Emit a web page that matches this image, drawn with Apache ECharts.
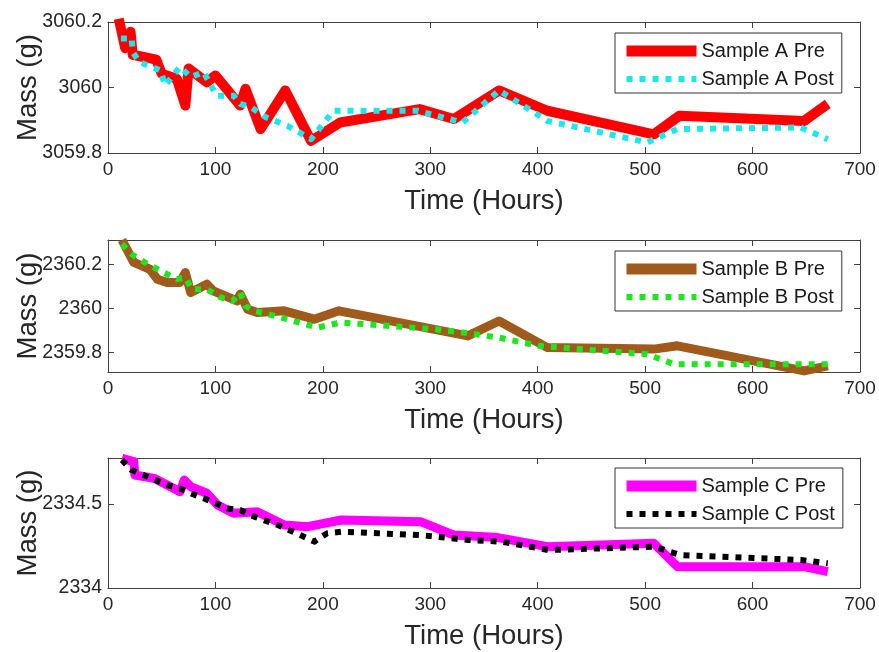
<!DOCTYPE html>
<html><head><meta charset="utf-8">
<script src="https://cdn.jsdelivr.net/npm/echarts@6/dist/echarts.min.js"></script>
<style>html,body{margin:0;padding:0;background:#fff}#c{width:879px;height:652px}</style>
</head><body><div id="c"></div>
<script>
// ---- data ----
const xTickValues = [0, 100, 200, 300, 400, 500, 600, 700];
const seriesNames = ['Sample A Pre', 'Sample A Post', 'Sample B Pre', 'Sample B Post', 'Sample C Pre', 'Sample C Post'];
const yTicksA = [3059.8, 3060, 3060.2];
const yTicksB = [2359.8, 2360, 2360.2];
const yTicksC = [2334, 2334.5];
const yRangeA = [3059.8, 3060.2];
const yRangeB = [2359.71, 2360.31];
const yRangeC = [2334, 2334.774];

const aPreT = [10, 16, 21, 23, 45, 50, 64, 72, 75, 92, 100, 123, 128, 142, 165, 189, 216, 290, 322, 364, 409, 508, 532, 648, 670];
const aPreV = [3060.21, 3060.12, 3060.17, 3060.10, 3060.085, 3060.042, 3060.027, 3059.945, 3060.058, 3060.016, 3060.037, 3059.945, 3059.996, 3059.873, 3059.991, 3059.837, 3059.893, 3059.934, 3059.904, 3059.991, 3059.929, 3059.857, 3059.914, 3059.898, 3059.95];
const aPostT = [12, 22, 23, 29, 49, 53, 67, 77, 89, 101, 117, 123, 133, 147, 167, 189, 210, 288, 330, 364, 409, 502, 530, 645, 670];
const aPostV = [3060.15, 3060.15, 3060.109, 3060.078, 3060.052, 3060.006, 3060.063, 3060.032, 3060.047, 3059.975, 3059.975, 3059.95, 3059.94, 3059.909, 3059.883, 3059.842, 3059.929, 3059.929, 3059.893, 3059.991, 3059.898, 3059.832, 3059.873, 3059.878, 3059.842];

const bPreT = [13, 24, 39, 46, 55, 67, 72, 77, 92, 98, 120, 123, 130, 139, 164, 192, 215, 335, 364, 409, 508, 530, 648, 670];
const bPreV = [2360.31, 2360.208, 2360.177, 2360.132, 2360.117, 2360.117, 2360.162, 2360.071, 2360.109, 2360.079, 2360.033, 2360.064, 2359.995, 2359.98, 2359.988, 2359.95, 2359.988, 2359.874, 2359.942, 2359.821, 2359.814, 2359.829, 2359.715, 2359.738];
const bPostT = [13, 22, 32, 43, 52, 64, 72, 78, 92, 105, 116, 123, 128, 136, 161, 195, 217, 303, 330, 363, 401, 502, 527, 645, 670];
const bPostV = [2360.291, 2360.245, 2360.215, 2360.185, 2360.162, 2360.132, 2360.14, 2360.086, 2360.086, 2360.049, 2360.033, 2360.071, 2360.01, 2359.988, 2359.958, 2359.912, 2359.935, 2359.905, 2359.89, 2359.867, 2359.829, 2359.791, 2359.745, 2359.745, 2359.745];

const cPreT = [13, 24, 25, 43, 67, 71, 77, 92, 102, 117, 139, 164, 186, 217, 291, 322, 363, 409, 508, 530, 648, 670];
const cPreV = [2334.772, 2334.752, 2334.673, 2334.653, 2334.573, 2334.643, 2334.603, 2334.564, 2334.494, 2334.445, 2334.454, 2334.375, 2334.365, 2334.405, 2334.395, 2334.315, 2334.3, 2334.246, 2334.266, 2334.127, 2334.127, 2334.097];
const cPostT = [13, 22, 33, 55, 67, 77, 89, 100, 111, 123, 136, 158, 179, 192, 204, 217, 291, 335, 366, 410, 508, 533, 645, 670];
const cPostV = [2334.762, 2334.702, 2334.673, 2334.613, 2334.593, 2334.564, 2334.534, 2334.504, 2334.474, 2334.464, 2334.425, 2334.375, 2334.315, 2334.276, 2334.326, 2334.335, 2334.315, 2334.286, 2334.276, 2334.226, 2334.246, 2334.196, 2334.167, 2334.147];

// ---- build ----
const zip = (t, v) => t.map((x, i) => [x, v[i]]);
const FONT = '"Liberation Sans", Arial, Helvetica, sans-serif';
const AX = '#404040';
const TXT = '#262626';
const grids = [
  { left: 108, right: 19, top: 22, height: 131, outerBoundsMode: 'none', containLabel: false },
  { left: 108, right: 19, top: 240, height: 132, outerBoundsMode: 'none', containLabel: false },
  { left: 108, right: 19, top: 458, height: 130, outerBoundsMode: 'none', containLabel: false }
];
const yTicks = [yTicksA, yTicksB, yTicksC];
const yRanges = [yRangeA, yRangeB, yRangeC];
const fmtY = v => String(Math.round(v * 10) / 10);

const xAxis = [], yAxis = [];
for (let i = 0; i < 3; i++) {
  const common = {
    type: 'value', gridIndex: i, min: xTickValues[0], max: xTickValues[xTickValues.length - 1], interval: 100,
    axisLine: { show: true, onZero: false, lineStyle: { color: AX, width: 1 } },
    axisTick: { show: true, inside: true, length: 6, lineStyle: { color: AX } },
    splitLine: { show: false }
  };
  xAxis.push(Object.assign({}, common, {
    position: 'bottom',
    axisLabel: { show: true, margin: 7, fontSize: 19, color: TXT, fontFamily: FONT },
    name: 'Time (Hours)', nameLocation: 'middle', nameGap: 34,
    nameTextStyle: { fontSize: 27.5, color: TXT, fontFamily: FONT }
  }));
  xAxis.push(Object.assign({}, common, { position: 'top', axisLabel: { show: false } }));
  const yc = {
    type: 'value', gridIndex: i, min: yRanges[i][0], max: yRanges[i][1],
    axisLine: { show: true, onZero: false, lineStyle: { color: AX, width: 1 } },
    axisTick: { show: true, inside: true, length: 6, customValues: yTicks[i], lineStyle: { color: AX } },
    splitLine: { show: false }
  };
  yAxis.push(Object.assign({}, yc, {
    position: 'left',
    axisLabel: { show: true, customValues: yTicks[i], formatter: fmtY, margin: 6, fontSize: 19.5, color: TXT, fontFamily: FONT },
    name: 'Mass (g)', nameLocation: 'middle', nameGap: 66, nameMoveOverlap: false,
    nameTextStyle: { fontSize: 27.5, color: TXT, fontFamily: FONT }
  }));
  yAxis.push(Object.assign({}, yc, { position: 'right', axisLabel: { show: false } }));
}

const styles = [
  { color: '#ff0000', width: 10, type: 'solid' },
  { color: '#1ae8ee', width: 6, type: [6, 7] },
  { color: '#a05a1c', width: 9, type: 'solid' },
  { color: '#1ee61e', width: 6, type: [6, 7] },
  { color: '#ff00ff', width: 9, type: 'solid' },
  { color: '#000000', width: 6, type: [6, 7] }
];
const datas = [zip(aPreT, aPreV), zip(aPostT, aPostV), zip(bPreT, bPreV), zip(bPostT, bPostV), zip(cPreT, cPreV), zip(cPostT, cPostV)];
const series = datas.map((d, k) => {
  const g = Math.floor(k / 2);
  return {
    type: 'line', name: seriesNames[k], xAxisIndex: 2 * g, yAxisIndex: 2 * g,
    data: d, symbol: 'none', showSymbol: false, clip: true, z: 2 + (k % 2),
    itemStyle: { color: styles[k].color },
    lineStyle: { color: styles[k].color, width: styles[k].width, type: styles[k].type, cap: 'butt', join: 'round' },
    animation: false
  };
});

const legendTops = [33, 251, 468];
const legend = legendTops.map((top, g) => ({
  orient: 'vertical', left: 615, top: top,
  data: [0, 1].map(j => {
    const k = 2 * g + j;
    return {
      name: seriesNames[k],
      itemStyle: { opacity: 0 },
      lineStyle: { color: styles[k].color, width: j === 0 ? 11 : 6, type: styles[k].type, cap: 'butt' }
    };
  }),
  itemWidth: 70, itemHeight: 12, itemGap: 8,
  padding: [8, 8, 4, 6],
  borderColor: '#333', borderWidth: 1, borderRadius: 0, backgroundColor: '#fff',
  textStyle: { fontSize: 20, color: '#1a1a1a', fontFamily: FONT },
  selectedMode: false
}));

const chart = echarts.init(document.getElementById('c'), null, { renderer: 'canvas' });
chart.setOption({ animation: false, backgroundColor: '#fff', grid: grids, xAxis, yAxis, series, legend });
</script></body></html>
